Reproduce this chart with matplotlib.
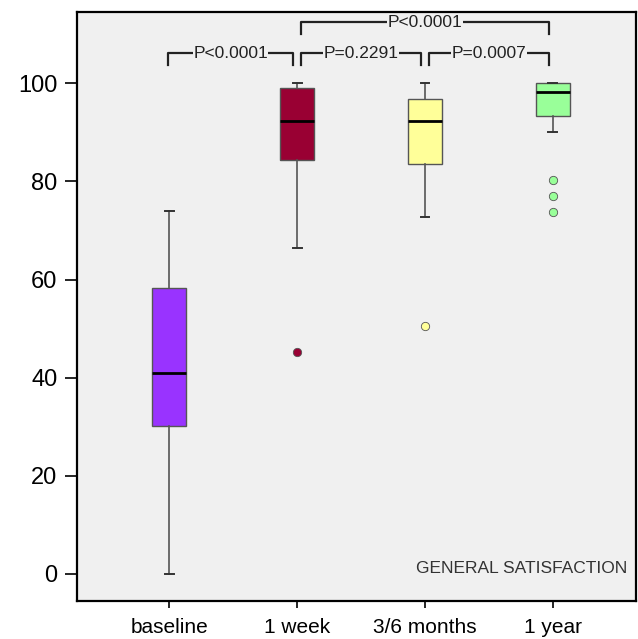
import matplotlib.pyplot as plt

plt.rcParams['font.family'] = ['Liberation Sans', 'DejaVu Sans']

# values
groups = ['baseline', '1 week', '3/6 months', '1 year']
whislo = [0, 66.4, 72.7, 90]
q1 = [30.1, 84.3, 83.5, 93.3]
med = [40.9, 92.4, 92.3, 98.2]
q3 = [58.2, 99.0, 96.7, 100]
whishi = [73.9, 100, 100, 100]
fliers = [[], [45.2], [50.5], [80.2, 77.0, 73.7]]
colors = ['#9933FF', '#990033', '#FFFF99', '#99FF99']

# (from group, to group, label, level)
pairs = [(1, 2, 'P<0.0001', 0), (2, 3, 'P=0.2291', 0), (3, 4, 'P=0.0007', 0),
         (2, 4, 'P<0.0001', 1)]

fig = plt.figure(figsize=(6.38, 6.39), dpi=100)
ax = fig.add_axes([0.1207, 0.0595, 0.8763, 0.9215])
ax.set_facecolor('#F0F0F0')

stats = []
for i in range(len(groups)):
    stats.append({'whislo': whislo[i], 'q1': q1[i], 'med': med[i], 'q3': q3[i],
                  'whishi': whishi[i], 'fliers': fliers[i]})

bp = ax.bxp(stats, positions=range(1, 5), widths=0.27, patch_artist=True,
            showfliers=True,
            boxprops=dict(edgecolor='#555555', linewidth=1),
            medianprops=dict(color='black', linewidth=2),
            whiskerprops=dict(color='#555555', linewidth=1.2),
            capprops=dict(color='#333333', linewidth=1.4),
            capwidths=0.07)
for patch, c in zip(bp['boxes'], colors):
    patch.set_facecolor(c)
for fl, c in zip(bp['fliers'], colors):
    fl.set(marker='o', markerfacecolor=c, markeredgecolor='#555555',
           markersize=6, markeredgewidth=0.6)

# significance brackets
for a, b, lab, lev in pairs:
    top = 106.1 + lev * 6.3
    leg = top - 2.4
    xa = a + 0.03 if a > 1 else a - 0.01
    xb = b - 0.03
    ax.plot([xa, xa, xb, xb], [leg, top, top, leg], color='#222222', lw=1.6)
    ax.text((xa + xb) / 2, top, lab, ha='center', va='center', fontsize=12.5,
            color='#222222',
            bbox=dict(facecolor='#F0F0F0', edgecolor='none', pad=0.3))

ax.text(0.985, 0.055, 'GENERAL SATISFACTION', transform=ax.transAxes,
        ha='right', va='center', fontsize=12.5, color='#333333')

ax.set_xlim(0.28, 4.65)
ax.set_ylim(-5.5, 114.5)
ax.set_xticks(range(1, 5))
ax.set_xticklabels(groups, fontsize=15)
ax.set_yticks(range(0, 101, 20))
ax.tick_params(axis='y', labelsize=17, length=9, width=1.2, pad=5)
ax.tick_params(axis='x', length=5, width=1.2, pad=7)
for s in ax.spines.values():
    s.set_linewidth(1.6)

plt.savefig('out.png')
